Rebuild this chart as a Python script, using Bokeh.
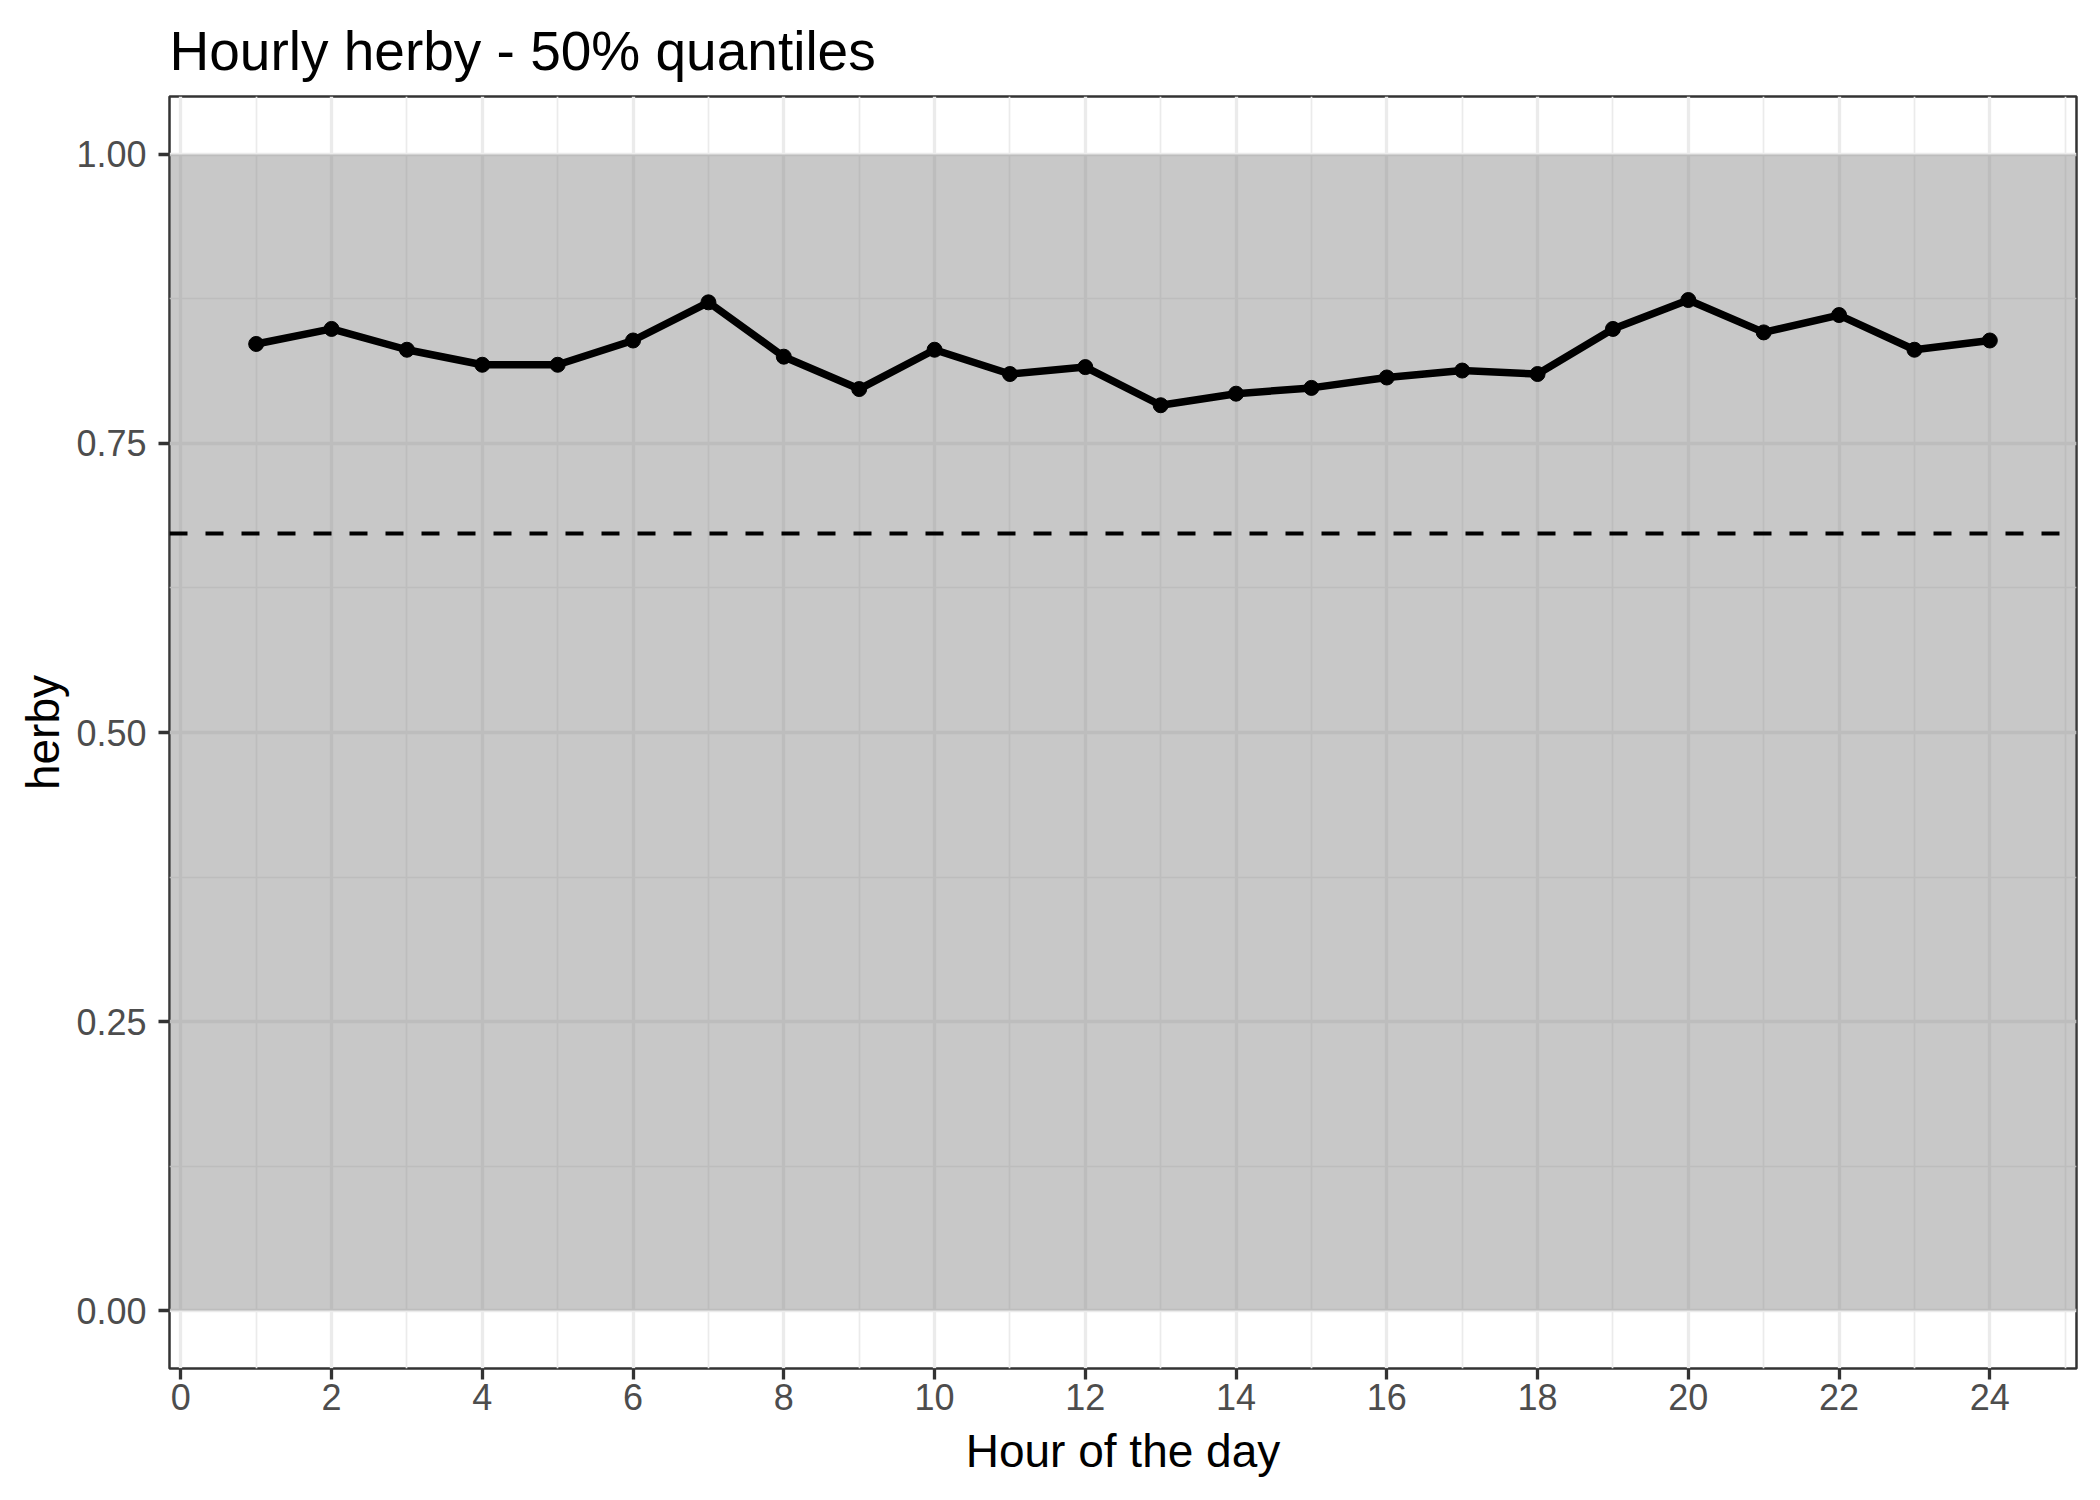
from bokeh.plotting import figure
from bokeh.models import FixedTicker, NumeralTickFormatter, Range1d
from bokeh.embed import file_html
from bokeh.resources import INLINE

# ---- data ----
hours = list(range(1, 25))
herby_median = [0.836, 0.849, 0.831, 0.818, 0.818, 0.839, 0.872, 0.825,
                0.797, 0.831, 0.810, 0.816, 0.783, 0.793, 0.798, 0.807,
                0.813, 0.810, 0.849, 0.874, 0.846, 0.861, 0.831, 0.839]
reference_level = [0.672]
band_bottom = [0.0]
band_top = [1.0]
x_major = list(range(0, 25, 2))
x_minor = list(range(1, 26, 2))
y_major = [0.0, 0.25, 0.5, 0.75, 1.0]
y_minor = [0.125, 0.375, 0.625, 0.875]

FONT = "Liberation Sans"

p = figure(
    width=2084, height=1484,
    frame_width=1907, frame_height=1272,
    min_border_left=169, min_border_right=8,
    min_border_top=96, min_border_bottom=116,
    x_range=Range1d(-0.15, 25.15), y_range=Range1d(-0.05, 1.05),
    output_backend="svg", toolbar_location=None,
    title="Hourly herby - 50% quantiles",
)
p.background_fill_color = "white"
p.border_fill_color = "white"
p.outline_line_color = "#333333"
p.outline_line_width = 2.5

# title
p.title.text_font = FONT
p.title.text_font_size = "55px"
p.title.text_font_style = "normal"
p.title.text_color = "black"
p.title.align = "left"
p.title.standoff = 30
p.title.offset = 0

# axes
p.xaxis.ticker = FixedTicker(ticks=x_major, minor_ticks=x_minor)
p.yaxis.ticker = FixedTicker(ticks=y_major, minor_ticks=y_minor)
p.yaxis.formatter = NumeralTickFormatter(format="0.00")
p.xaxis.axis_label = "Hour of the day"
p.yaxis.axis_label = "herby"
for ax in (p.xaxis, p.yaxis):
    ax.axis_line_color = None
    ax.major_tick_line_color = "#333333"
    ax.major_tick_line_width = 3.3
    ax.major_tick_out = 11
    ax.major_tick_in = 0
    ax.minor_tick_line_color = None
    ax.major_label_text_font = FONT
    ax.major_label_text_font_size = "36px"
    ax.major_label_text_color = "#4d4d4d"
    ax.axis_label_text_font = FONT
    ax.axis_label_text_font_size = "46px"
    ax.axis_label_text_font_style = "normal"
    ax.axis_label_text_color = "black"
p.xaxis.major_label_standoff = 4
p.yaxis.major_label_standoff = 12
p.xaxis.axis_label_standoff = 12
p.yaxis.axis_label_standoff = 4

# grid
for g in (p.xgrid, p.ygrid):
    g.grid_line_color = "#ebebeb"
    g.grid_line_width = 3.3
    g.minor_grid_line_color = "#ebebeb"
    g.minor_grid_line_width = 1.7

# shaded band (semi-transparent, gridlines visible through it)
p.hstrip(y0=band_bottom, y1=band_top, fill_color="#7f7f7f", fill_alpha=0.43,
         line_color=None)

# reference dashed line
p.hspan(y=reference_level, line_color="black", line_width=4, line_dash="18 18")

# median line + points
p.line(hours, herby_median, line_color="black", line_width=7.5)
p.scatter(hours, herby_median, size=15, fill_color="black", line_color="black")

open("out.html", "w").write(file_html(p, INLINE))
